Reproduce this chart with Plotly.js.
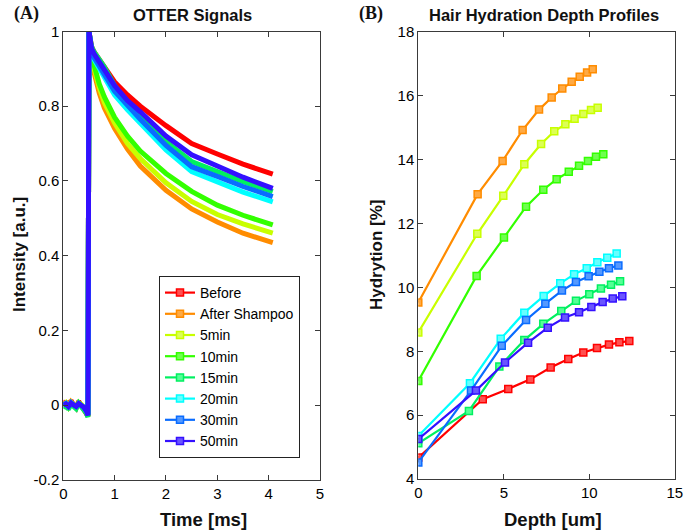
<!DOCTYPE html>
<html><head><meta charset="utf-8">
<script src="https://cdn.plot.ly/plotly-3.0.1.min.js"></script>
<style>body{margin:0;padding:0;background:#fff}#chart{width:685px;height:532px}</style>
</head><body><div id="chart"></div>
<script>
// ---------- Data ----------
const seriesNames = ["Before","After Shampoo","5min","10min","15min","20min","30min","50min"];
const seriesColors = ["#ff0000","#ff8c00","#c8ff00","#33ff00","#00f060","#00ffff","#0a6cff","#3410ff"];
const markerFill = ["#ff5050","#ffaa44","#dcff55","#70ff50","#55ff95","#66ffff","#5599ff","#6a55ff"];

// Panel A: OTTER signals (time in ms)
const baseTime = [0.0,0.05,0.1,0.15,0.2,0.25,0.3,0.35,0.4,0.45,0.48];
const baseVals = [
  [0.0,0.01,-0.01,0.012,0.0,-0.008,0.01,0.0,-0.01,-0.02,-0.03],
  [0.0,0.005,-0.005,0.008,0.0,-0.006,0.006,0.0,-0.008,-0.018,-0.028],
  [0.0,0.006,-0.004,0.006,0.002,-0.004,0.005,0.002,-0.006,-0.016,-0.026],
  [0.0,0.004,-0.006,0.006,0.0,-0.005,0.006,0.0,-0.008,-0.018,-0.028],
  [-0.01,0.004,-0.012,0.004,-0.004,-0.01,0.004,-0.004,-0.012,-0.022,-0.032],
  [0.0,0.004,-0.004,0.006,0.0,-0.004,0.004,0.0,-0.006,-0.016,-0.026],
  [0.0,0.004,-0.004,0.006,0.0,-0.004,0.004,0.0,-0.006,-0.016,-0.026],
  [0.0,0.003,-0.004,0.005,0.0,-0.004,0.004,0.0,-0.006,-0.016,-0.028]
];
const decayTime = [0.5,0.55,0.6,0.7,0.8,1.0,1.25,1.5,2.0,2.5,3.0,3.5,4.08];
const decayVals = [
  [1.0,0.96,0.945,0.925,0.91,0.865,0.83,0.80,0.748,0.70,0.672,0.645,0.618],
  [1.0,0.93,0.89,0.835,0.795,0.74,0.685,0.64,0.575,0.525,0.49,0.46,0.435],
  [1.0,0.935,0.90,0.85,0.81,0.755,0.70,0.66,0.595,0.545,0.51,0.485,0.46],
  [1.0,0.94,0.91,0.86,0.825,0.77,0.72,0.68,0.62,0.572,0.535,0.508,0.482],
  [1.0,0.96,0.945,0.925,0.905,0.855,0.81,0.775,0.705,0.652,0.625,0.598,0.571],
  [1.0,0.945,0.925,0.90,0.88,0.83,0.79,0.755,0.683,0.625,0.598,0.57,0.544],
  [1.0,0.95,0.93,0.905,0.885,0.84,0.80,0.765,0.695,0.638,0.612,0.585,0.558],
  [1.0,0.955,0.94,0.92,0.90,0.855,0.815,0.785,0.72,0.67,0.64,0.61,0.58]
];

// Panel B: hydration depth profiles
const depthVals = [
  [0,3.77,5.26,6.55,7.74,8.77,9.65,10.45,11.15,11.76,12.34],
  [0,3.47,4.93,6.10,7.06,7.80,8.42,8.97,9.44,9.87,10.2],
  [0,3.45,4.97,6.20,7.18,7.95,8.60,9.14,9.65,10.1,10.49],
  [0,3.41,5.01,6.30,7.31,8.09,8.80,9.40,9.92,10.39,10.82],
  [0,2.96,4.74,6.20,7.31,8.36,9.22,10.0,10.68,11.27,11.8],
  [0,3.02,4.82,6.20,7.33,8.30,9.11,9.85,10.47,11.05,11.6],
  [0,3.08,4.88,6.30,7.43,8.40,9.22,9.96,10.59,11.15,11.7],
  [0,3.37,5.07,6.42,7.57,8.58,9.40,10.12,10.78,11.37,11.93]
];
const hydrationVals = [
  [4.67,6.50,6.82,7.12,7.49,7.76,7.96,8.10,8.21,8.28,8.32],
  [9.53,12.92,13.96,14.93,15.57,15.95,16.23,16.44,16.60,16.73,16.83],
  [8.59,11.68,12.87,13.86,14.49,14.89,15.11,15.28,15.43,15.56,15.63],
  [7.07,10.36,11.56,12.53,13.06,13.39,13.62,13.81,13.96,14.09,14.17],
  [5.12,6.13,7.52,8.35,8.86,9.26,9.58,9.79,9.97,10.08,10.19],
  [5.35,7.00,8.39,9.21,9.73,10.13,10.41,10.60,10.79,10.93,11.06],
  [4.52,6.77,8.17,8.98,9.49,9.90,10.17,10.35,10.49,10.60,10.69],
  [5.25,6.77,7.65,8.27,8.74,9.06,9.22,9.39,9.54,9.65,9.72]
];

const xTicksA = [0,1,2,3,4,5];
const yTicksA = [-0.2,0,0.2,0.4,0.6,0.8,1];
const yTickTextA = ["-0.2","0","0.2","0.4","0.6","0.8","1"];
const xTicksB = [0,5,10,15];
const yTicksB = [4,6,8,10,12,14,16,18];

// ---------- Traces ----------
const traces = [];
seriesNames.forEach((n, i) => {
  const t = baseTime.concat(decayTime);
  const v = baseVals[i].concat(decayVals[i]);
  traces.push({
    x: t, y: v, xaxis: 'x', yaxis: 'y', type: 'scatter', mode: 'lines',
    line: {color: seriesColors[i], width: 5}, showlegend: false, hoverinfo: 'skip', name: n
  });
});
seriesNames.forEach((n, i) => {
  traces.push({
    x: depthVals[i], y: hydrationVals[i], xaxis: 'x2', yaxis: 'y2', type: 'scatter', mode: 'lines+markers',
    name: n, line: {color: seriesColors[i], width: 2.2},
    marker: {symbol: 'square', size: 7, color: markerFill[i], line: {color: seriesColors[i], width: 1.5}},
    showlegend: true
  });
});

const sans = 'Liberation Sans, Arial, sans-serif';
const axisCommon = {
  showgrid: false, zeroline: false, showline: true, linecolor: '#3a3a3a', linewidth: 1,
  mirror: 'ticks', ticks: 'inside', ticklen: 5, tickwidth: 1, tickcolor: '#3a3a3a',
  tickfont: {family: sans, size: 15, color: '#000'}
};

const W = 685, H = 532;
function ann(text, px, py, size, family, angle) {
  const a = {text: text, xref: 'paper', yref: 'paper', x: px/W, y: 1-py/H, showarrow: false,
    xanchor: 'center', yanchor: 'middle', font: {family: family || sans, size: size, color: '#111'}};
  if (angle !== undefined) a.textangle = angle;
  return a;
}
const layout = {
  width: W, height: H, margin: {l: 0, r: 0, t: 0, b: 0},
  paper_bgcolor: '#fff', plot_bgcolor: '#fff',
  showlegend: true,
  legend: {
    x: 159/W, y: 1 - 276/H, xanchor: 'left', yanchor: 'top',
    bordercolor: '#222', borderwidth: 1, bgcolor: '#fff',
    font: {family: sans, size: 14, color: '#000'},
    tracegroupgap: 0, itemwidth: 30
  },
  xaxis: Object.assign({}, axisCommon, {domain: [63.3/W, 320/W], range: [0, 5], tickvals: xTicksA, anchor: 'y'}),
  yaxis: Object.assign({}, axisCommon, {domain: [1-479.7/H, 1-31.5/H], range: [-0.2, 1], tickvals: yTicksA, ticktext: yTickTextA, anchor: 'x'}),
  xaxis2: Object.assign({}, axisCommon, {domain: [418.3/W, 674.8/W], range: [0, 15], tickvals: xTicksB, anchor: 'y2'}),
  yaxis2: Object.assign({}, axisCommon, {domain: [1-479/H, 1-32/H], range: [4, 18], tickvals: yTicksB, anchor: 'x2'}),
  annotations: [
    ann('<b>OTTER Signals</b>', 192, 15, 16.5),
    ann('<b>Hair Hydration Depth Profiles</b>', 544, 15, 16.5),
    ann('<b>(A)</b>', 26, 13, 18, 'Liberation Serif, Times New Roman, serif'),
    ann('<b>(B)</b>', 371, 13, 18, 'Liberation Serif, Times New Roman, serif'),
    ann('<b>Time [ms]</b>', 203, 519, 18.5),
    ann('<b>Depth [um]</b>', 553, 519, 18.5),
    ann('<b>Intensity [a.u.]</b>', 19, 255, 17, null, -90),
    ann('<b>Hydrytion [%]</b>', 376, 255, 17, null, -90)
  ]
};

Plotly.newPlot('chart', traces, layout, {displayModeBar: false, staticPlot: true});
</script></body></html>
